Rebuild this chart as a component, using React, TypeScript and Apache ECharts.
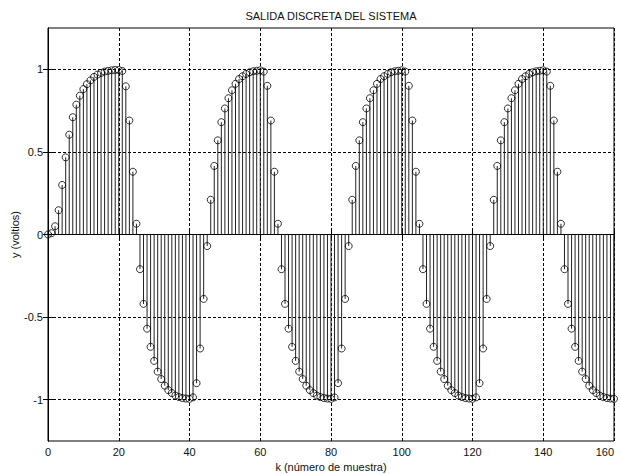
import React, { useEffect, useRef } from "react";
import * as echarts from "echarts";

// Samples k = 0..160, values y(k) in volts
const yValues: number[] = [
  // k 0..25
  0, 0.008, 0.05, 0.147, 0.3, 0.467, 0.604, 0.71, 0.786, 0.84, 0.88, 0.91, 0.933, 0.954, 0.968, 0.978, 0.986, 0.99, 0.994, 0.996, 0.996, 0.99, 0.897, 0.69, 0.38, 0.065,
  // k 26..45
  -0.21, -0.42, -0.57, -0.68, -0.765, -0.83, -0.875, -0.915, -0.942, -0.96, -0.975, -0.984, -0.99, -0.993, -0.995, -0.986, -0.9, -0.69, -0.39, -0.07,
  // k 46..65
  0.21, 0.415, 0.57, 0.68, 0.763, 0.825, 0.873, 0.912, 0.941, 0.958, 0.972, 0.982, 0.988, 0.991, 0.994, 0.986, 0.9, 0.69, 0.38, 0.065,
  // k 66..85
  -0.21, -0.42, -0.57, -0.68, -0.765, -0.83, -0.875, -0.915, -0.942, -0.96, -0.975, -0.984, -0.99, -0.993, -0.995, -0.986, -0.9, -0.69, -0.39, -0.07,
  // k 86..105
  0.21, 0.415, 0.57, 0.68, 0.763, 0.825, 0.873, 0.912, 0.941, 0.958, 0.972, 0.982, 0.988, 0.991, 0.994, 0.986, 0.9, 0.69, 0.38, 0.065,
  // k 106..125
  -0.21, -0.42, -0.57, -0.68, -0.765, -0.83, -0.875, -0.915, -0.942, -0.96, -0.975, -0.984, -0.99, -0.993, -0.995, -0.986, -0.9, -0.69, -0.39, -0.07,
  // k 126..145
  0.21, 0.415, 0.57, 0.68, 0.763, 0.825, 0.873, 0.912, 0.941, 0.958, 0.972, 0.982, 0.988, 0.991, 0.994, 0.986, 0.9, 0.69, 0.38, 0.065,
  // k 146..160
  -0.21, -0.42, -0.57, -0.68, -0.765, -0.83, -0.875, -0.915, -0.942, -0.96, -0.975, -0.984, -0.99, -0.993, -0.995,
];

const yTicks: number[] = [-1, -0.5, 0, 0.5, 1];
const titleText = "SALIDA DISCRETA DEL SISTEMA";
const xName = "k (número de muestra)";
const yName = "y (voltios)";

const FONT = "Liberation Sans, Arial, sans-serif";

export default function App() {
  const ref = useRef<HTMLDivElement>(null);

  useEffect(() => {
    if (!ref.current) return;
    const chart = echarts.init(ref.current, undefined, { renderer: "svg" });
    const points = yValues.map((v, k) => [k, v]);
    const dash = [3, 2];

    const option: any = {
      animation: false,
      backgroundColor: "#fff",
      textStyle: { fontFamily: FONT },
      graphic: [
        {
          type: "text",
          x: 331,
          y: 16,
          style: {
            text: titleText,
            align: "center",
            verticalAlign: "middle",
            font: `11px ${FONT}`,
            fill: "#111",
          },
        },
      ],
      grid: {
        left: 48,
        right: 7,
        top: 28,
        bottom: 33,
        containLabel: false,
        outerBoundsMode: "none",
        show: true,
        borderColor: "#000",
        borderWidth: 1,
        backgroundColor: "#fff",
      },
      xAxis: [
        {
          type: "value",
          min: 0,
          max: 160,
          interval: 20,
          name: xName,
          nameLocation: "middle",
          nameGap: 20,
          nameMoveOverlap: false,
          nameTextStyle: { color: "#111", fontSize: 11, fontFamily: FONT },
          axisLine: { show: true, lineStyle: { color: "#000" } },
          axisTick: { show: true, inside: true, length: 5, lineStyle: { color: "#000" } },
          axisLabel: { color: "#111", fontSize: 11, margin: 5, fontFamily: FONT, alignMaxLabel: "right" },
          splitLine: { show: true, lineStyle: { color: "#000", type: dash, width: 1 } },
        },
        {
          type: "value",
          position: "top",
          min: 0,
          max: 160,
          interval: 20,
          axisLine: { show: true, lineStyle: { color: "#000" } },
          axisTick: { show: true, inside: true, length: 5, lineStyle: { color: "#000" } },
          axisLabel: { show: false },
          splitLine: { show: false },
        },
      ],
      yAxis: [
        {
          type: "value",
          min: -1.25,
          max: 1.25,
          name: yName,
          nameLocation: "middle",
          nameGap: 28,
          nameMoveOverlap: false,
          nameTextStyle: { color: "#111", fontSize: 11, fontFamily: FONT },
          axisLine: { show: true, lineStyle: { color: "#000" } },
          axisTick: { show: true, inside: true, length: 5, customValues: yTicks, lineStyle: { color: "#000" } },
          axisLabel: { color: "#111", fontSize: 11, margin: 5, customValues: yTicks, fontFamily: FONT },
          splitLine: { show: true, lineStyle: { color: "#000", type: dash, width: 1 } },
        },
        {
          type: "value",
          position: "right",
          min: -1.25,
          max: 1.25,
          axisLine: { show: true, lineStyle: { color: "#000" } },
          axisTick: { show: true, inside: true, length: 5, customValues: yTicks, lineStyle: { color: "#000" } },
          axisLabel: { show: false, customValues: yTicks },
          splitLine: { show: false },
        },
      ],
      series: [
        {
          type: "custom",
          xAxisIndex: 0,
          yAxisIndex: 0,
          data: points,
          renderItem: (params: any, api: any) => {
            const k = api.value(0);
            const v = api.value(1);
            const p0 = api.coord([k, 0]);
            const p1 = api.coord([k, v]);
            return {
              type: "line",
              shape: { x1: p0[0], y1: p0[1], x2: p1[0], y2: p1[1] },
              style: { stroke: "#222", lineWidth: 1 },
            };
          },
          z: 2,
        },
        {
          type: "scatter",
          xAxisIndex: 0,
          yAxisIndex: 0,
          data: points,
          symbol: "circle",
          symbolSize: 7,
          itemStyle: { color: "rgba(0,0,0,0)", borderColor: "#000", borderWidth: 1 },
          z: 3,
          markLine: {
            silent: true,
            symbol: "none",
            label: { show: false },
            lineStyle: { color: "#000", type: "solid", width: 1 },
            data: [{ yAxis: 0 }],
          },
        },
      ],
    };

    chart.setOption(option);
    return () => chart.dispose();
  }, []);

  return (
    <div
      ref={ref}
      style={{ position: "absolute", left: 0, top: 0, width: 621, height: 474 }}
    />
  );
}
